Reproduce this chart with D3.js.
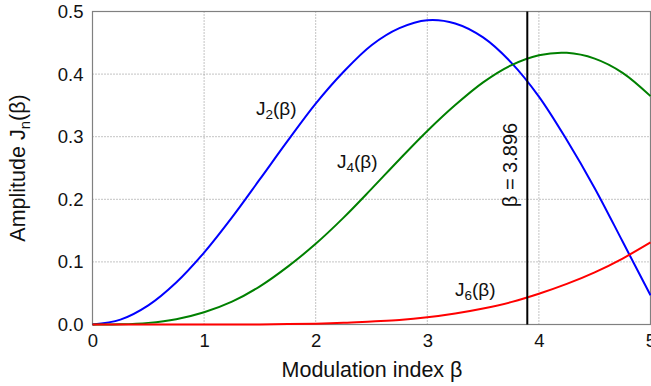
<!DOCTYPE html>
<html>
<head>
<meta charset="utf-8">
<script src="https://cdn.jsdelivr.net/npm/d3@7"></script>
<style>
  body { margin: 0; background: #fff; }
  svg { display: block; font-family: "Liberation Sans", Arial, sans-serif; }
</style>
</head>
<body>
<div id="chart"></div>
<script>
const W = 651, H = 386;
const margin = { top: 11.5, right: 0.5, bottom: 61.5, left: 92.5 };
const width = W - margin.left - margin.right;
const height = H - margin.top - margin.bottom;

// values
const betaValues = [0, 0.25, 0.5, 0.75, 1, 1.25, 1.5, 1.75, 2, 2.25, 2.5, 2.75, 3, 3.25, 3.5, 3.75, 4, 4.25, 4.5, 4.75, 5];
const blueValues = [0, 0.0078, 0.0306, 0.0671, 0.1149, 0.1711, 0.2321, 0.2936, 0.3528, 0.4037, 0.4461, 0.4734, 0.4861, 0.4809, 0.4586, 0.4188, 0.3641, 0.2947, 0.2178, 0.1325, 0.0466];
const greenValues = [0, 0.0003, 0.0026, 0.0085, 0.0196, 0.0365, 0.0610, 0.0925, 0.1289, 0.1707, 0.2166, 0.2636, 0.3091, 0.3505, 0.3868, 0.4140, 0.4302, 0.4340, 0.4247, 0.4020, 0.3648];
const redValues = [0, 0, 0, 0, 0, 0.0001, 0.0002, 0.0006, 0.0012, 0.0026, 0.0049, 0.0072, 0.0114, 0.0175, 0.0255, 0.0357, 0.0491, 0.0648, 0.0833, 0.1054, 0.1311];
const xTicks = [0, 1, 2, 3, 4, 5];
const yTicks = [0, 0.1, 0.2, 0.3, 0.4, 0.5];
const markerBeta = 3.896;

const svg = d3.select("#chart").append("svg")
  .attr("width", W).attr("height", H);
const g = svg.append("g")
  .attr("transform", `translate(${margin.left},${margin.top})`);

const x = d3.scaleLinear().domain([0, 5]).range([0, width]);
const y = d3.scaleLinear().domain([0, 0.5]).range([height, 0]);

// dotted grid
g.append("g").selectAll("line")
  .data(xTicks.slice(1, -1)).enter().append("line")
  .attr("x1", d => x(d)).attr("x2", d => x(d))
  .attr("y1", 0).attr("y2", height)
  .attr("stroke", "#888").attr("stroke-width", 1)
  .attr("stroke-dasharray", "1,2");
g.append("g").selectAll("line")
  .data(yTicks.slice(1, -1)).enter().append("line")
  .attr("y1", d => y(d)).attr("y2", d => y(d))
  .attr("x1", 0).attr("x2", width)
  .attr("stroke", "#888").attr("stroke-width", 1)
  .attr("stroke-dasharray", "1,2");

// frame
g.append("rect")
  .attr("x", 0).attr("y", 0).attr("width", width).attr("height", height)
  .attr("fill", "none").attr("stroke", "#808080").attr("stroke-width", 1.2);

// tick labels
const xAxis = g.append("g").attr("transform", `translate(0,${height})`)
  .call(d3.axisBottom(x).tickValues(xTicks).tickSize(0).tickPadding(9).tickFormat(d3.format("d")));
const yAxis = g.append("g")
  .call(d3.axisLeft(y).tickValues(yTicks).tickSize(0).tickPadding(9).tickFormat(d3.format(".1f")));
[xAxis, yAxis].forEach(a => {
  a.select(".domain").remove();
  a.selectAll("text").attr("font-size", 18.5).attr("fill", "#111")
    .attr("font-family", "Liberation Sans, Arial, sans-serif");
});

// curves
const series = [
  { values: blueValues, color: "#0000ff" },
  { values: greenValues, color: "#008000" },
  { values: redValues, color: "#ff0000" }
];
const line = d3.line()
  .x((d, i) => x(betaValues[i]))
  .y(d => y(d))
  .curve(d3.curveCatmullRom.alpha(0.5));
series.forEach(s => {
  g.append("path")
    .datum(s.values)
    .attr("fill", "none")
    .attr("stroke", s.color)
    .attr("stroke-width", 2)
    .attr("d", line);
});

// marker line
g.append("line")
  .attr("x1", x(markerBeta)).attr("x2", x(markerBeta))
  .attr("y1", 0).attr("y2", height)
  .attr("stroke", "#000").attr("stroke-width", 2);
svg.append("text")
  .attr("transform", `translate(${margin.left + x(markerBeta) - 10},165) rotate(-90)`)
  .attr("text-anchor", "middle")
  .attr("font-size", 20).attr("fill", "#111")
  .text("\u03b2 = 3.896");

// curve labels
function curveLabel(px, py, sub) {
  const t = svg.append("text")
    .attr("x", px).attr("y", py)
    .attr("font-size", 19).attr("fill", "#111");
  t.append("tspan").text("J");
  t.append("tspan").attr("font-size", 13.5).attr("dy", 4).text(sub);
  t.append("tspan").attr("dy", -4).text("(\u03b2)");
}
curveLabel(256, 115, "2");
curveLabel(337, 168, "4");
curveLabel(455, 296, "6");

// axis titles
svg.append("text")
  .attr("x", 372).attr("y", 377)
  .attr("text-anchor", "middle")
  .attr("font-size", 21.5).attr("fill", "#111")
  .text("Modulation index \u03b2");
const yt = svg.append("text")
  .attr("transform", "translate(25,168) rotate(-90)")
  .attr("text-anchor", "middle")
  .attr("font-size", 21.5).attr("fill", "#111");
yt.append("tspan").text("Amplitude J");
yt.append("tspan").attr("font-size", 15).attr("dy", 5).text("n");
yt.append("tspan").attr("dy", -5).text("(\u03b2)");
</script>
</body>
</html>
